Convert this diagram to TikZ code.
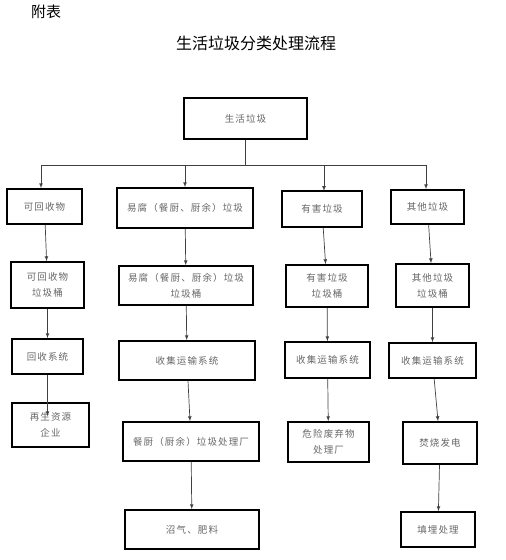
\documentclass[tikz,border=0pt]{standalone}
\usepackage{fontspec}
\newfontfamily\cjk{Noto Sans CJK SC}
\newfontfamily\cjkbox[LetterSpace=12]{Noto Sans CJK SC}
\begin{document}
\begin{tikzpicture}[x=1pt,y=-1pt,
	box/.style={draw=black, line width=1.6pt, font=\cjkbox\fontsize{9.5}{16}\selectfont, text=black!60, align=center, inner sep=0pt},
	arr/.style={-latex, draw=black!75, line width=0.7pt}]
	\useasboundingbox (0,0) rectangle (506,560);
	\node[font=\cjk\fontsize{15}{18}\selectfont] (app) at (46,12) {附表};
	\node[font=\cjk\fontsize{16}{18}\selectfont] (title) at (256,43) {生活垃圾分类处理流程};
	% top
	\node[box, minimum width=123, minimum height=41] (root) at (245.5,118.5) {生活垃圾};
	% first row
	\node[box, minimum width=75, minimum height=35] (rec1) at (44.5,206.5) {可回收物};
	\node[box, minimum width=136, minimum height=40] (food1) at (185,208) {易腐（餐厨、厨余）垃圾};
	\node[box, minimum width=80, minimum height=36] (haz1) at (322,209) {有害垃圾};
	\node[box, minimum width=73, minimum height=34] (oth1) at (427.5,207) {其他垃圾};
	% bins
	\node[box, minimum width=73, minimum height=46] (rec2) at (47.5,285) {可回收物\\垃圾桶};
	\node[box, minimum width=134, minimum height=39] (food2) at (186,285.5) {易腐（餐厨、厨余）垃圾\\垃圾桶};
	\node[box, minimum width=82, minimum height=42] (haz2) at (327,286) {有害垃圾\\垃圾桶};
	\node[box, minimum width=73, minimum height=43] (oth2) at (432.5,285.5) {其他垃圾\\垃圾桶};
	% collection
	\node[box, minimum width=71, minimum height=35] (rec3) at (47.5,356.5) {回收系统};
	\node[box, minimum width=136, minimum height=39] (food3) at (187,360.5) {收集运输系统};
	\node[box, minimum width=85, minimum height=36] (haz3) at (327.5,360) {收集运输系统};
	\node[box, minimum width=87, minimum height=35] (oth3) at (432.5,360.5) {收集运输系统};
	% treatment
	\node[box, minimum width=77, minimum height=44] (rec4) at (50.5,425) {再生资源\\企业};
	\node[box, minimum width=136, minimum height=39] (food4) at (191,441.5) {餐厨（厨余）垃圾处理厂};
	\node[box, minimum width=81, minimum height=40] (haz4) at (328.5,442) {危险废弃物\\处理厂};
	\node[box, minimum width=74, minimum height=42] (oth4) at (440,443) {焚烧发电};
	% end
	\node[box, minimum width=134, minimum height=39] (food5) at (192,529.5) {沼气、肥料};
	\node[box, minimum width=74, minimum height=35] (oth5) at (438,529.5) {填埋处理};

	\coordinate (busL) at (41,165);
	\coordinate (busR) at (426,165);
	\draw[draw=black!75, line width=0.7pt] (root.south) -- (root.south |- busL);
	\draw[draw=black!75, line width=0.7pt] (busL) -- (busR);
	\draw[arr] (busL) -- (busL |- rec1.north);
	\draw[arr] (food1.north |- busL) -- (food1.north);
	\draw[arr] (324,165) -- (324,191);
	\draw[arr] (busR) -- (busR |- oth1.north);

	\draw[arr] (rec1) -- (rec2);
	\draw[arr] (rec2) -- (rec3);
	\draw[arr] (rec3.south) -- ([yshift=-14pt]rec4.north -| rec3.south);
	\draw[arr] (food1) -- (food2);
	\draw[arr] (food2) -- (food3);
	\draw[arr] (food3) -- (food4);
	\draw[arr] (food4) -- (food5);
	\draw[arr] (haz1) -- (haz2);
	\draw[arr] (haz2) -- (haz3);
	\draw[arr] (haz3) -- (haz4);
	\draw[arr] (oth1) -- (oth2);
	\draw[arr] (oth2) -- (oth3);
	\draw[arr] (oth3) -- (oth4);
	\draw[arr] (oth4) -- (oth5);
\end{tikzpicture}
\end{document}
